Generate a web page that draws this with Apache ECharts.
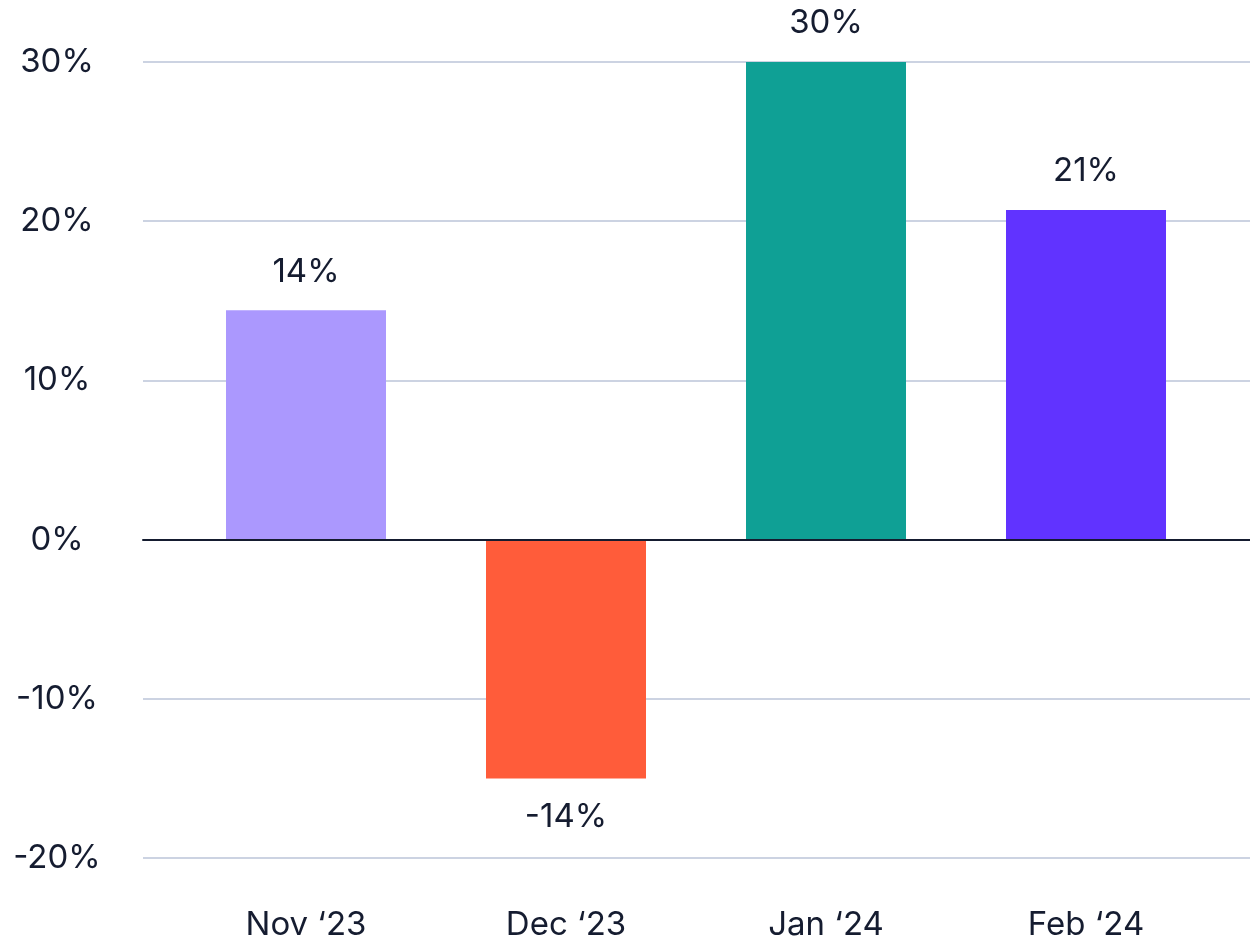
<!DOCTYPE html>
<html>
<head>
<meta charset="utf-8">
<script src="https://cdn.jsdelivr.net/npm/echarts@6/dist/echarts.min.js"></script>
<style>
  html, body { margin: 0; padding: 0; background: #fff; }
  #chart { width: 1250px; height: 948px; }
</style>
</head>
<body>
<div id="chart"></div>
<script>
// data
const months = ['Nov \u201823', 'Dec \u201823', 'Jan \u201824', 'Feb \u201824'];
const changes = [14.4, -15.0, 30.0, 20.7];
const changeLabels = ['14%', '-14%', '30%', '21%'];
const barColors = ['#ab98fe', '#ff5c3a', '#0fa095', '#6133ff'];
const yTicks = { min: -20, max: 30, step: 10 };

const ink = '#151c30';
const font = 'Inter, "Noto Sans", sans-serif';

const chart = echarts.init(document.getElementById('chart'));

chart.setOption({
  animation: false,
  grid: [
    // wide grid: gridlines, y labels and the zero line
    { left: 143, right: 0, top: 62, bottom: 90 },
    // bar grid: narrower so category bands fall where the bars are
    { left: 176, width: 1040, top: 62, bottom: 90 }
  ],
  xAxis: [
    {
      gridIndex: 0,
      type: 'value',
      min: 0,
      max: 1,
      z: 5,
      axisLine: { show: true, onZero: true, lineStyle: { color: ink, width: 2 } },
      axisTick: { show: false },
      axisLabel: { show: false },
      splitLine: { show: false }
    },
    {
      gridIndex: 1,
      type: 'category',
      data: months,
      axisLine: { show: false },
      axisTick: { show: false },
      axisLabel: {
        color: ink,
        fontFamily: font,
        fontSize: 33,
        margin: 51
      }
    }
  ],
  yAxis: [
    {
      gridIndex: 0,
      type: 'value',
      min: yTicks.min,
      max: yTicks.max,
      interval: yTicks.step,
      axisLine: { show: false },
      axisTick: { show: false },
      axisLabel: {
        formatter: '{value}%',
        color: ink,
        fontFamily: font,
        fontSize: 33,
        align: 'center',
        margin: 86
      },
      splitLine: { lineStyle: { color: '#ccd3e2', width: 2 } }
    },
    {
      gridIndex: 1,
      type: 'value',
      min: yTicks.min,
      max: yTicks.max,
      interval: yTicks.step,
      show: false,
      splitLine: { show: false }
    }
  ],
  series: [
    {
      type: 'bar',
      xAxisIndex: 1,
      yAxisIndex: 1,
      barWidth: 160,
      data: changes.map((v, i) => ({
        value: v,
        itemStyle: { color: barColors[i] },
        label: { position: v < 0 ? 'bottom' : 'top', distance: v < 0 ? 22 : 22 }
      })),
      label: {
        show: true,
        color: ink,
        fontFamily: font,
        fontSize: 33,
        formatter: p => changeLabels[p.dataIndex]
      }
    }
  ]
});
</script>
</body>
</html>
